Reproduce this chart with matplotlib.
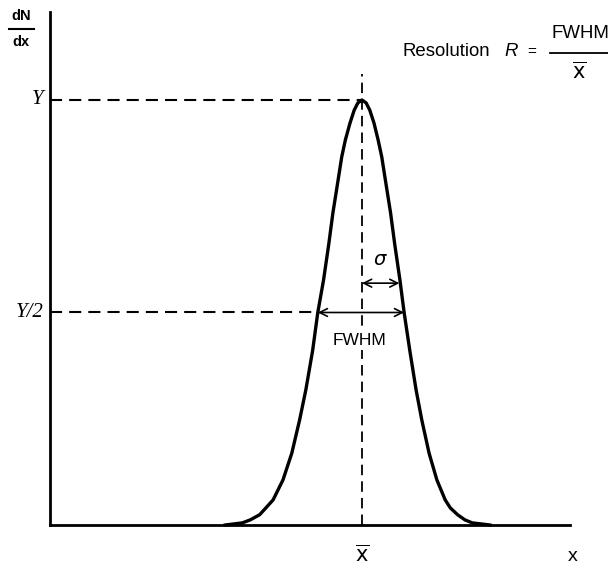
import matplotlib.pyplot as plt

# peak shape (x in arbitrary units, y as fraction of the peak height Y)
x_left = [3.37, 3.70, 3.85, 4.03, 4.15, 4.29, 4.48, 4.65, 4.80, 4.92, 5.05, 5.15, 5.26, 5.36, 5.44, 5.51, 5.61, 5.68, 5.77, 5.85, 5.92]
y_left = [0.0, 0.005, 0.012, 0.024, 0.040, 0.059, 0.106, 0.169, 0.247, 0.318, 0.41, 0.50, 0.576, 0.66, 0.734, 0.788, 0.866, 0.906, 0.946, 0.976, 0.993]
x_peak = 6.0
y_peak = 1.0
x_right = [6.08, 6.15, 6.23, 6.31, 6.38, 6.48, 6.55, 6.63, 6.73, 6.81, 6.92, 7.04, 7.15, 7.29, 7.44, 7.60, 7.70, 7.84, 7.98, 8.12, 8.46]
y_right = [0.993, 0.976, 0.946, 0.906, 0.866, 0.788, 0.734, 0.66, 0.576, 0.50, 0.41, 0.318, 0.247, 0.169, 0.106, 0.059, 0.040, 0.024, 0.012, 0.005, 0.0]

half = 0.5
fwhm_lo, fwhm_hi = 5.15, 6.81
sigma_hi = 6.72
sigma_y = 0.569

sans = ['Liberation Sans', 'DejaVu Sans']

fig = plt.figure(figsize=(6.08, 5.69), dpi=100)
ax = fig.add_axes([50/608, 44/569, 520/608, 513/569])
ax.set_xlim(0, 10)
ax.set_ylim(0, 1.207)
for s in ('top', 'right'):
    ax.spines[s].set_visible(False)
for s in ('left', 'bottom'):
    ax.spines[s].set_linewidth(2)
ax.set_xticks([])
ax.set_yticks([])

xs = x_left + [x_peak] + x_right
ys = y_left + [y_peak] + y_right
ax.plot(xs, ys, color='black', lw=2.4, solid_joinstyle='round', clip_on=False)

dash = (0, (5.8, 3.4))
ax.plot([0, x_peak], [y_peak, y_peak], color='black', lw=1.5, linestyle=dash)
ax.plot([0, fwhm_lo], [half, half], color='black', lw=1.5, linestyle=dash)
ax.plot([x_peak, x_peak], [0, 1.06], color='black', lw=1.3, linestyle=dash)

# FWHM and sigma arrows
ax.annotate('', xy=(fwhm_lo, half), xytext=(fwhm_hi, half),
            arrowprops=dict(arrowstyle='<->', lw=1.2, color='black', mutation_scale=14, shrinkA=0, shrinkB=0))
ax.annotate('', xy=(x_peak, sigma_y), xytext=(sigma_hi, sigma_y),
            arrowprops=dict(arrowstyle='<->', lw=1.2, color='black', mutation_scale=14, shrinkA=0, shrinkB=0))
ax.text(5.96, 0.435, 'FWHM', ha='center', va='center', fontsize=12.5, family=sans,
        bbox=dict(facecolor='white', edgecolor='none', pad=2))
ax.text(6.35, 0.624, r'$\sigma$', ha='center', va='center', fontsize=14)

# y labels
ax.text(-0.12, y_peak, 'Y', ha='right', va='center', fontsize=15, style='italic',
        family=['Liberation Serif', 'DejaVu Serif'], clip_on=False)
ax.text(-0.12, half, 'Y/2', ha='right', va='center', fontsize=15, style='italic',
        family=['Liberation Serif', 'DejaVu Serif'], clip_on=False)

# x labels
ax.text(x_peak, -0.07, r'$\overline{\mathrm{x}}$', ha='center', va='center', fontsize=15, clip_on=False)
ax.text(10.06, -0.075, 'x', ha='center', va='center', fontsize=14, family=sans, clip_on=False)

# dN/dx axis label
fig.text(21/608, 1 - 16/569, 'dN', ha='center', va='center', fontsize=10.5, weight='bold', family=sans)
fig.text(21/608, 1 - 42/569, 'dx', ha='center', va='center', fontsize=10.5, weight='bold', family=sans)
fig.add_artist(plt.Line2D([9/608, 34/608], [1 - 29/569, 1 - 29/569], color='black', lw=1.5))

# resolution formula
fig.text(402/608, 1 - 52/569, 'Resolution', ha='left', va='center', fontsize=13.4, family=sans)
fig.text(511/608, 1 - 52/569, 'R', ha='center', va='center', fontsize=13.4, style='italic', family=sans)
fig.text(532/608, 1 - 52/569, '=', ha='center', va='center', fontsize=11, family=sans)
fig.text(580/608, 1 - 33/569, 'FWHM', ha='center', va='center', fontsize=13.4, family=sans)
fig.text(579/608, 1 - 72/569, r'$\overline{\mathrm{x}}$', ha='center', va='center', fontsize=15)
fig.add_artist(plt.Line2D([550/608, 610/608], [1 - 53/569, 1 - 53/569], color='black', lw=1.3))

fig.savefig('out.png', dpi=100)
